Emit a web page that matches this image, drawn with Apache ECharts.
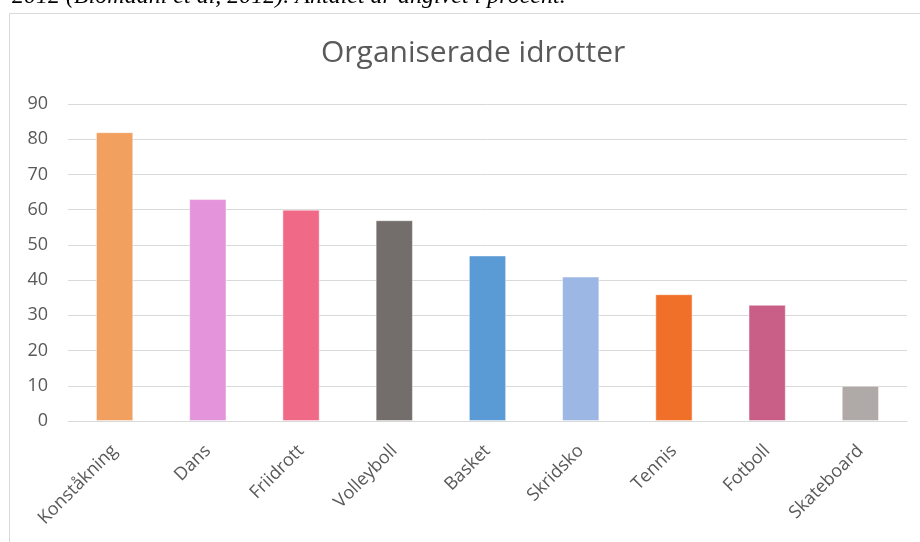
<!DOCTYPE html>
<html>
<head>
<meta charset="utf-8">
<script src="https://cdn.jsdelivr.net/npm/echarts@6/dist/echarts.min.js"></script>
<style>
  html, body { margin: 0; padding: 0; background: #fff; }
  #chart { width: 920px; height: 542px; }
</style>
</head>
<body>
<div id="chart"></div>
<script>
// kategorier och värden (procent)
const sports = ['Konståkning', 'Dans', 'Friidrott', 'Volleyboll', 'Basket', 'Skridsko', 'Tennis', 'Fotboll', 'Skateboard']
const percent = [82, 63, 60, 57, 47, 41, 36, 33, 10]
const yTicks = [0, 10, 20, 30, 40, 50, 60, 70, 80, 90]
const barColors = ['#F2A05F', '#E394DB', '#F06A88', '#736E6C', '#5B9BD5', '#9DB7E5', '#F0702A', '#C95F87', '#AFAAA8']

const chart = echarts.init(document.getElementById('chart'))

const option = {
  animation: false,
  backgroundColor: '#fff',
  title: {
    text: 'Organiserade idrotter',
    left: 316,
    top: 33,
    textStyle: {
      fontFamily: 'Open Sans',
      fontSize: 30,
      fontWeight: 'normal',
      color: '#595959'
    }
  },
  graphic: [
    {
      type: 'rect',
      shape: { x: 9.5, y: 13.5, width: 960, height: 600 },
      style: { fill: 'none', stroke: '#d9d9d9', lineWidth: 1 },
      silent: true
    },
    {
      type: 'text',
      left: 12,
      top: -15,
      style: {
        text: '2012 (Blomdahl et al, 2012). Antalet är angivet i procent.',
        font: 'italic 24px "Liberation Serif"',
        fill: '#000'
      }
    }
  ],
  grid: {
    left: 68,
    right: 13,
    top: 104,
    bottom: 121
  },
  xAxis: {
    type: 'category',
    data: sports,
    axisLine: { lineStyle: { color: '#d9d9d9', width: 1 } },
    axisTick: { show: false },
    axisLabel: {
      rotate: 45,
      interval: 0,
      margin: 27,
      color: '#595959',
      fontFamily: 'Open Sans',
      fontSize: 18
    }
  },
  yAxis: {
    type: 'value',
    min: yTicks[0],
    max: yTicks[yTicks.length - 1],
    interval: 10,
    axisLine: { show: false },
    axisTick: { show: false },
    splitLine: { lineStyle: { color: '#d9d9d9', width: 1 } },
    axisLabel: {
      margin: 20,
      color: '#595959',
      fontFamily: 'Open Sans',
      fontSize: 18
    }
  },
  series: [
    {
      type: 'bar',
      data: percent,
      barWidth: '40%',
      itemStyle: {
        color: p => barColors[p.dataIndex],
        borderColor: 'rgba(255,255,255,0.45)',
        borderWidth: 1
      }
    }
  ]
}

chart.setOption(option)
window.addEventListener('resize', () => chart.resize())
</script>
</body>
</html>
